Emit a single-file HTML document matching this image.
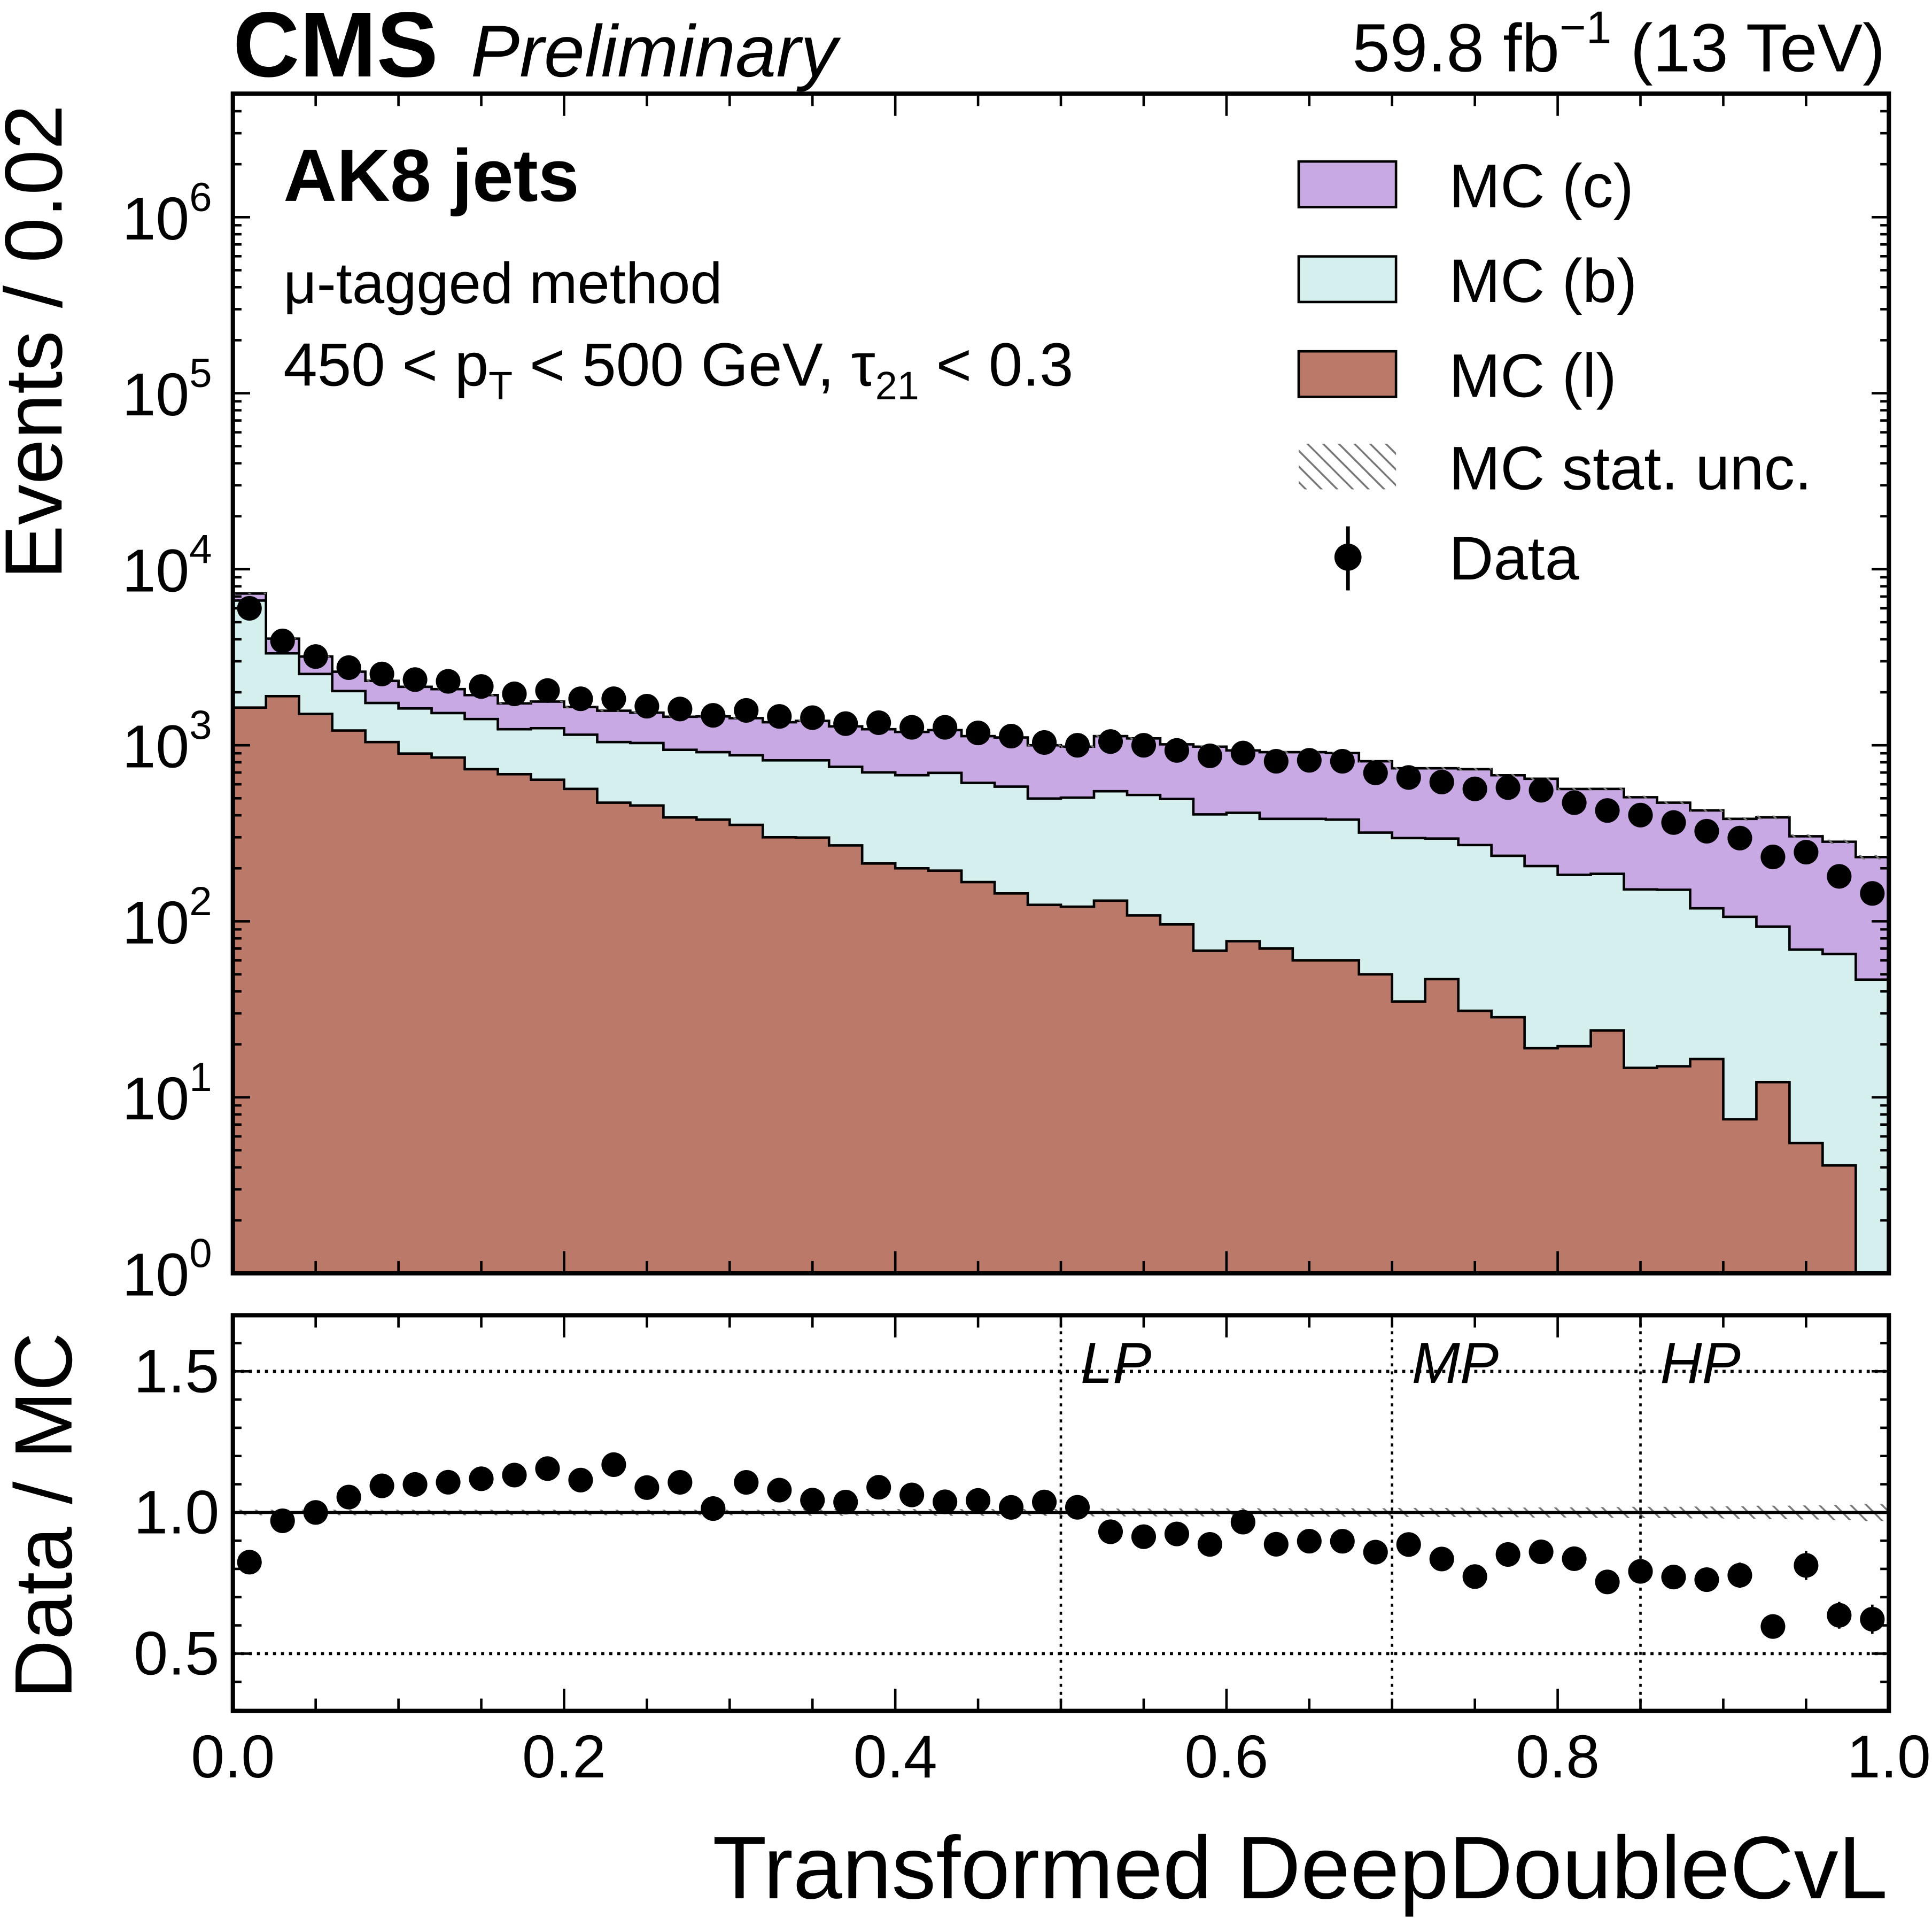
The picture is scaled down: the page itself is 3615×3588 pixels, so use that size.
<!DOCTYPE html>
<html><head><meta charset="utf-8">
<style>
html,body{margin:0;padding:0;background:#fff;}
svg{display:block;}
text{font-family:"Liberation Sans","DejaVu Sans",sans-serif;fill:#000;}
</style></head>
<body>
<svg id="chart" xmlns="http://www.w3.org/2000/svg" width="3615" height="3588" viewBox="0 0 1568 1556" preserveAspectRatio="none">
<defs>
<pattern id="hatch" patternUnits="userSpaceOnUse" width="9" height="9" patternTransform="rotate(-45)">
<line x1="0" y1="0" x2="0" y2="9" stroke="#777" stroke-width="3"/>
</pattern>
</defs>
<g id="main"></g>
<g id="ratio"></g>
<g id="texts">
<text x="189" y="62" font-size="75" font-weight="bold">CMS</text>
<text x="382" y="62" font-size="59.5" font-style="italic">Preliminary</text>
<text x="1530" y="58" font-size="55" text-anchor="end">59.8 fb<tspan dy="-23" font-size="37">−1</tspan><tspan dy="23"> (13 TeV)</tspan></text>
<text x="230" y="163" font-size="60" font-weight="bold">AK8 jets</text>
<text x="230" y="246" font-size="47">μ-tagged method</text>
<text x="230" y="313" font-size="49.5">450 &lt; p<tspan dy="11" font-size="32">T</tspan><tspan dy="-11"> &lt; 500 GeV, τ</tspan><tspan dy="11" font-size="32">21</tspan><tspan dy="-11"> &lt; 0.3</tspan></text>
<text transform="translate(50,470) rotate(-90)" font-size="66">Events / 0.02</text>
<text transform="translate(58,1378) rotate(-90)" font-size="66">Data / MC</text>
<text x="1532" y="1540" font-size="72" text-anchor="end">Transformed DeepDoubleCvL</text>
</g>
<g id="legend">
<rect x="1054" y="131" width="79" height="37" fill="#c9a9e4" stroke="#000" stroke-width="2"/>
<text x="1176" y="168" font-size="50">MC (c)</text>
<rect x="1054" y="208" width="79" height="37" fill="#d5efef" stroke="#000" stroke-width="2"/>
<text x="1176" y="245" font-size="50">MC (b)</text>
<rect x="1054" y="285" width="79" height="37" fill="#bb7a69" stroke="#000" stroke-width="2"/>
<text x="1176" y="322" font-size="50">MC (l)</text>
<rect x="1054" y="360" width="79" height="37" fill="url(#hatch)"/>
<text x="1176" y="397" font-size="50">MC stat. unc.</text>
<line x1="1094" y1="427" x2="1094" y2="479" stroke="#000" stroke-width="3"/>
<circle cx="1094" cy="452" r="11" fill="#000"/>
<text x="1176" y="470" font-size="50">Data</text>
</g>
</svg>
<script>
// ---- data ----
const binEdgesMin = 0.0;
const binWidth = 0.02;
const mcLight = [1637,1900,1507,1213,1043,897,851,731,685,637,565,472,455,389,378,353,300,299,270,213,200,194,167,144,124,121,131,108,96,68,77,70,60,60,50,35,47,31,28.5,19,19.5,24,14.7,15,16.5,7.5,12.2,5.5,4.1,0];
const mcB = [5003,1427,1034,819,695,721,673,678,548,613,583,571,575,553,536,524,521,522,484,488,476,503,444,438,374,383,417,414,399,337,336,312,322,318,269,262,248,240,207,187,164,162,137,136,102,98.5,81,63.5,61,46.6];
const mcC = [640,709,651,586,584,530,560,519,497,521,500,528,502,510,545,549,531,554,526,532,515,522,516,525,502,478,579,572,517,577,522,532,532,525,492,443,445,460,440,439,381,379,355,321,308,276,296,235,218,185];
const dataCounts = [5998,3917,3192,2761,2541,2361,2307,2158,1959,2046,1837,1837,1667,1607,1479,1578,1459,1435,1327,1343,1265,1265,1175,1127,1037,1000,1050,1000,935,871,903,811,821,811,697,656,618,565,575,555,472,426,401,364,325,297,232,247,180,144];
const mcStatRel = [0.01,0.01,0.01,0.01,0.01,0.01,0.01,0.01,0.01,0.01,0.01,0.01,0.01,0.01,0.01,0.01,0.012,0.012,0.012,0.012,0.012,0.012,0.012,0.012,0.012,0.014,0.014,0.014,0.014,0.014,0.015,0.015,0.015,0.015,0.015,0.016,0.016,0.017,0.017,0.018,0.018,0.019,0.02,0.02,0.021,0.022,0.024,0.025,0.027,0.03];
const logTickLabels = ["0","1","2","3","4","5","6"];
const xTickLabels = ["0.0","0.2","0.4","0.6","0.8","1.0"];
const ratioTickLabels = ["0.5","1.0","1.5"];
const wpCuts = [0.5,0.7,0.85];
const wpNames = ["LP","MP","HP"];

// ---- geometry ----
const X0=189, X1=1533, MT=76, MB=1033, RT=1067, RB=1388;
const DEC=142.8;
const sx = v => X0 + (v-0)/(1-0)*(X1-X0);
const sy = v => v<=1 ? MB : Math.max(MT, MB - Math.log10(v)*DEC);
const ry = r => 1227 - (r-1)*229;
const NS='http://www.w3.org/2000/svg';
function mk(tag, parent, attrs){const e=document.createElementNS(NS,tag);for(const k in attrs)e.setAttribute(k,attrs[k]);parent.appendChild(e);return e;}
const main=document.getElementById('main'), ratio=document.getElementById('ratio');
const n=dataCounts.length;
const lo=i=>binEdgesMin+i*binWidth;
const tot=[],lb=[];
for(let i=0;i<n;i++){lb.push(mcLight[i]+mcB[i]);tot.push(mcLight[i]+mcB[i]+mcC[i]);}

function stepPath(vals){
  let d=`M${sx(lo(0))},${MB}`;
  for(let i=0;i<n;i++){const y=sy(vals[i]);d+=` L${sx(lo(i))},${y} L${sx(lo(i+1))},${y}`;}
  d+=` L${sx(lo(n))},${MB} Z`;return d;
}
let p;
p=mk('path',main,{d:stepPath(tot),fill:'#c9a9e4',stroke:'#000','stroke-width':2});


p=mk('path',main,{d:stepPath(lb),fill:'#d5efef',stroke:'#000','stroke-width':2});


p=mk('path',main,{d:stepPath(mcLight),fill:'#bb7a69',stroke:'#000','stroke-width':2});


for(let i=0;i<n;i++){
  const yt=sy(tot[i]*(1+mcStatRel[i])), yb=sy(tot[i]*(1-mcStatRel[i]));
  const r=mk('rect',main,{x:sx(lo(i)),y:yt,width:sx(lo(i+1))-sx(lo(i)),height:Math.max(1,yb-yt),fill:'url(#hatch)'});
  
  
}
for(let i=0;i<n;i++){
  const cx=sx(lo(i)+binWidth/2), e=Math.sqrt(dataCounts[i]);
  const l=mk('line',main,{x1:cx,x2:cx,y1:sy(dataCounts[i]+e),y2:sy(dataCounts[i]-e),stroke:'#000','stroke-width':2});
  
  
  const c=mk('circle',main,{cx:cx,cy:sy(dataCounts[i]),r:10,fill:'#000'});
  
  
}
let f=mk('rect',main,{x:X0,y:MT,width:X1-X0,height:MB-MT,fill:'none',stroke:'#000','stroke-width':3.5});


for(let d=0;d<=6;d++){
  for(let m=1;m<10;m++){
    const v=m*Math.pow(10,d), y=MB-Math.log10(v)*DEC; if(y<MT)continue;
    const len=m===1?14:7;
    mk('line',main,{x1:X0,x2:X0+len,y1:y,y2:y,stroke:'#000','stroke-width':2});
    mk('line',main,{x1:X1-len,x2:X1,y1:y,y2:y,stroke:'#000','stroke-width':2});
  }
  const t=mk('text',main,{x:172,y:MB-d*DEC+18,'font-size':49,'text-anchor':'end'});
  
  
  t.innerHTML='10<tspan dy="-23" font-size="33">'+logTickLabels[d]+'</tspan>';
}
for(let k=0;k<=20;k++){
  const x=sx(k*0.05), len=(k%4===0)?18:10;
  [[MB,-1],[MT,1],[RB,-1],[RT,1]].forEach(([y0,s])=>mk('line',main,{x1:x,x2:x,y1:y0,y2:y0+s*len,stroke:'#000','stroke-width':2}));
}
for(let i=0;i<n;i++){
  const yt=ry(1+mcStatRel[i]), yb=ry(1-mcStatRel[i]);
  const r=mk('rect',ratio,{x:sx(lo(i)),y:yt,width:sx(lo(i+1))-sx(lo(i)),height:yb-yt,fill:'url(#hatch)'});
  
  
}
[0.5,1.5].forEach(v=>{const l=mk('line',ratio,{x1:X0,x2:X1,y1:ry(v),y2:ry(v),stroke:'#000','stroke-width':2.5,'stroke-dasharray':'2.5,4'});
  
  });
let one=mk('line',ratio,{x1:X0,x2:X1,y1:ry(1),y2:ry(1),stroke:'#000','stroke-width':2.5});


wpCuts.forEach((c,j)=>{
  const l=mk('line',ratio,{x1:sx(c),x2:sx(c),y1:RT,y2:RB,stroke:'#000','stroke-width':2,'stroke-dasharray':'2.5,4'});
  
  
  const t=mk('text',ratio,{x:sx(c)+16,y:1122,'font-size':47,'font-style':'italic'});
  
  
  t.textContent=wpNames[j];
});
for(let i=0;i<n;i++){
  const r=dataCounts[i]/tot[i], cx=sx(lo(i)+binWidth/2), e=Math.sqrt(dataCounts[i])/tot[i];
  const l=mk('line',ratio,{x1:cx,x2:cx,y1:ry(r+e),y2:ry(r-e),stroke:'#000','stroke-width':2});
  
  
  const c=mk('circle',ratio,{cx:cx,cy:ry(r),r:10,fill:'#000'});
  
  
}
f=mk('rect',ratio,{x:X0,y:RT,width:X1-X0,height:RB-RT,fill:'none',stroke:'#000','stroke-width':3.5});


for(let k=3;k<=17;k++){
  const y=ry(k/10), len=(k%5===0)?14:7;
  mk('line',ratio,{x1:X0,x2:X0+len,y1:y,y2:y,stroke:'#000','stroke-width':2});
  mk('line',ratio,{x1:X1-len,x2:X1,y1:y,y2:y,stroke:'#000','stroke-width':2});
}
ratioTickLabels.forEach(s=>{const t=mk('text',ratio,{x:178,y:ry(parseFloat(s))+17,'font-size':50,'text-anchor':'end'});
  
  
  t.textContent=s;});
xTickLabels.forEach(s=>{const t=mk('text',ratio,{x:sx(parseFloat(s)),y:1442,'font-size':49,'text-anchor':'middle'});
  
  
  t.textContent=s;});
</script>
</body></html>
